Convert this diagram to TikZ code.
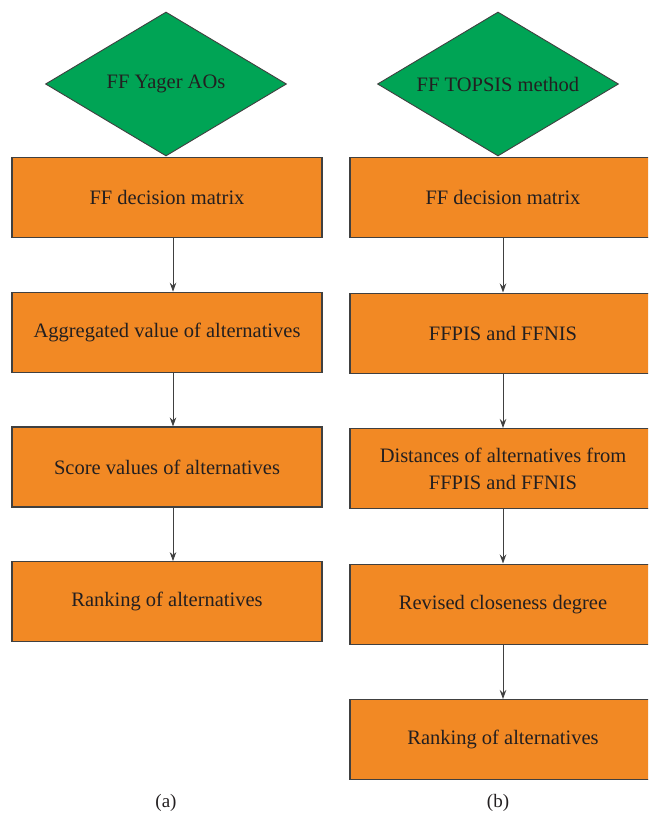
\documentclass[tikz,border=0pt]{standalone}
\usepackage{fontspec}
\setmainfont{Liberation Serif}
\usetikzlibrary{arrows.meta, positioning, shapes.geometric}

\definecolor{flowgreen}{RGB}{0,164,85}
\definecolor{floworange}{RGB}{242,137,36}
\definecolor{flowedge}{RGB}{64,64,64}
\definecolor{flowtext}{RGB}{35,31,32}

\begin{document}
\begin{tikzpicture}[
  x=1pt, y=-1pt,
  node distance=53.5pt,
  method/.style={diamond, draw=flowedge, line width=0.9pt, fill=flowgreen,
    aspect=4, minimum width=241pt, minimum height=144pt, inner sep=0pt,
    font=\fontsize{20.5}{27}\selectfont, text=flowtext},
  stepbox/.style={rectangle, draw=flowedge, line width=1.2pt, fill=floworange,
    minimum width=310pt, minimum height=80pt, align=center,
    font=\fontsize{20.5}{27}\selectfont, text=flowtext, inner sep=2pt},
  arr/.style={-{Stealth[length=9pt, width=6.5pt, inset=3pt]}, line width=0.9pt, flowedge},
  caplbl/.style={font=\fontsize{19}{22}\selectfont, text=flowtext},
]
\clip (0,0) rectangle (648,821);

% (a) FF Yager aggregation
\node[method] (ya) at (166,84) {FF Yager AOs};
\node[stepbox, anchor=north] (ya1) at (167,157) {FF decision matrix};
\node[stepbox, below=of ya1] (ya2) {Aggregated value of alternatives};
\node[stepbox, below=of ya2] (ya3) {Score values of alternatives};
\node[stepbox, below=of ya3] (ya4) {Ranking of alternatives};

\draw[arr] ([xshift=6pt]ya1.south) -- ([xshift=6pt]ya2.north);
\draw[arr] ([xshift=6pt]ya2.south) -- ([xshift=6pt]ya3.north);
\draw[arr] ([xshift=6pt]ya3.south) -- ([xshift=6pt]ya4.north);

% (b) FF TOPSIS
\node[method] (tp) at (498,84) {FF TOPSIS method};
\node[stepbox, minimum width=306pt, anchor=north] (tp1) at (503,157) {FF decision matrix};
\node[stepbox, minimum width=306pt, below=54.3pt of tp1] (tp2) {FFPIS and FFNIS};
\node[stepbox, minimum width=306pt, below=54.3pt of tp2] (tp3) {Distances of alternatives from\\FFPIS and FFNIS};
\node[stepbox, minimum width=306pt, below=54.3pt of tp3] (tp4) {Revised closeness degree};
\node[stepbox, minimum width=306pt, below=54.3pt of tp4] (tp5) {Ranking of alternatives};

\draw[arr] (tp1) -- (tp2);
\draw[arr] (tp2) -- (tp3);
\draw[arr] (tp3) -- (tp4);
\draw[arr] (tp4) -- (tp5);

% Sub-figure labels
\node[caplbl] (capa) at (166,803) {(a)};
\node[caplbl] (capb) at (498,803) {(b)};

\end{tikzpicture}
\end{document}
